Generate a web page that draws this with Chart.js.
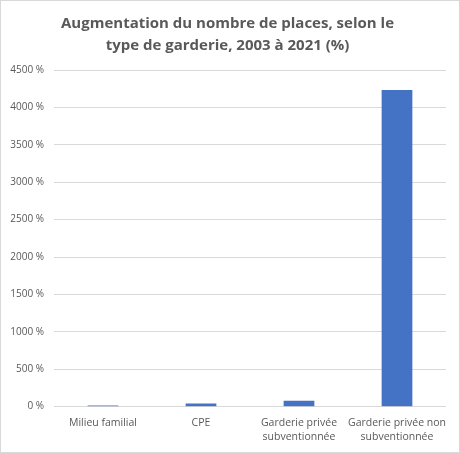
<!DOCTYPE html>
<html>
<head>
<meta charset="utf-8">
<script src="https://cdn.jsdelivr.net/npm/chart.js@4.4.0/dist/chart.umd.min.js"></script>
<style>
  html, body { margin: 0; padding: 0; background: #fff; }
  #wrap { position: relative; width: 458px; height: 451px; border: 1px solid #d9d9d9; }
</style>
</head>
<body>
<div id="wrap"><canvas id="graphique"></canvas></div>
<script>
// types de garderie
const categories = [
    'Milieu familial',
    'CPE',
    ['Garderie privée', 'subventionnée'],
    ['Garderie privée non', 'subventionnée']
];
// augmentation du nombre de places (%)
const augmentation = [15, 42, 78, 4233];
const ticksY = [0, 500, 1000, 1500, 2000, 2500, 3000, 3500, 4000, 4500];

const gris = '#595959';

new Chart(document.getElementById('graphique'), {
    type: 'bar',
    data: {
        labels: categories,
        datasets: [{
            data: augmentation,
            backgroundColor: '#4472C4',
            borderWidth: 0,
            barPercentage: 0.55,
            categoryPercentage: 0.57
        }]
    },
    options: {
        responsive: true,
        maintainAspectRatio: false,
        animation: false,
        layout: { padding: { left: 8, right: 13, top: 0, bottom: 7 } },
        plugins: {
            legend: { display: false },
            tooltip: { enabled: false },
            title: {
                display: true,
                text: ['Augmentation du nombre de places, selon le', 'type de garderie, 2003 à 2021 (%)'],
                color: gris,
                font: { family: 'Open Sans', size: 15, weight: 'bold', lineHeight: 1.5 },
                padding: { top: 11, bottom: 13 }
            }
        },
        scales: {
            x: {
                grid: { display: false },
                border: { display: false },
                ticks: {
                    color: gris,
                    font: { family: 'Open Sans', size: 10.5, lineHeight: 1.35 },
                    maxRotation: 0,
                    autoSkip: false,
                    padding: 1
                }
            },
            y: {
                min: 0,
                max: 4500,
                afterBuildTicks: (s) => { s.ticks = ticksY.map(v => ({ value: v })); },
                afterFit: (s) => { s.width = 45; },
                grid: { color: '#d9d9d9', drawTicks: false },
                border: { display: false },
                ticks: {
                    color: gris,
                    font: { family: 'Open Sans', size: 10 },
                    padding: 10,
                    callback: (v) => v + ' %'
                }
            }
        }
    }
});
</script>
</body>
</html>
